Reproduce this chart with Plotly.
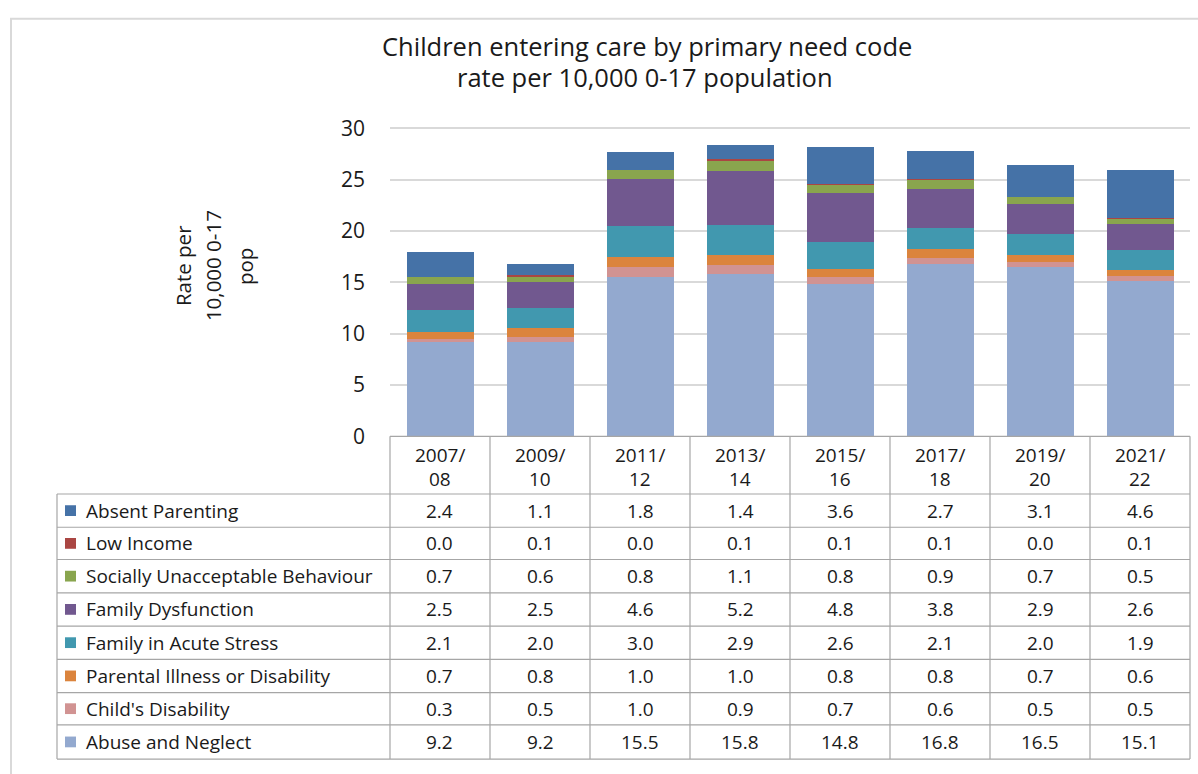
import plotly.graph_objects as go

# ---------------- data ----------------
periods = ["2007/08", "2009/10", "2011/12", "2013/14", "2015/16", "2017/18", "2019/20", "2021/22"]

abuse_neglect = [9.2, 9.2, 15.5, 15.8, 14.8, 16.8, 16.5, 15.1]
childs_disability = [0.3, 0.5, 1.0, 0.9, 0.7, 0.6, 0.5, 0.5]
parental_illness = [0.7, 0.8, 1.0, 1.0, 0.8, 0.8, 0.7, 0.6]
acute_stress = [2.1, 2.0, 3.0, 2.9, 2.6, 2.1, 2.0, 1.9]
family_dysfunction = [2.5, 2.5, 4.6, 5.2, 4.8, 3.8, 2.9, 2.6]
socially_unacceptable = [0.7, 0.6, 0.8, 1.1, 0.8, 0.9, 0.7, 0.5]
low_income = [0.0, 0.1, 0.0, 0.1, 0.1, 0.1, 0.0, 0.1]
absent_parenting = [2.4, 1.1, 1.8, 1.4, 3.6, 2.7, 3.1, 4.6]

series = [
    ("Abuse and Neglect", abuse_neglect, "#93A9CF"),
    ("Child's Disability", childs_disability, "#D19392"),
    ("Parental Illness or Disability", parental_illness, "#DB843D"),
    ("Family in Acute Stress", acute_stress, "#4198AF"),
    ("Family Dysfunction", family_dysfunction, "#71588F"),
    ("Socially Unacceptable Behaviour", socially_unacceptable, "#89A54E"),
    ("Low Income", low_income, "#AA4643"),
    ("Absent Parenting", absent_parenting, "#4572A7"),
]

y_ticks = [0, 5, 10, 15, 20, 25, 30]

W, H = 1198, 774
def px(x):
    return x / W
def py(y):
    return 1 - y / H

FONT = "Open Sans"
TXT = "#1a1a1a"
GRID = "#d9d9d9"
LINE = "#a6a6a6"

plot_left, plot_right = 390, 1190
y0_px, y30_px = 442, 127
unit = (y0_px - y30_px) / 30.0
ymax = 31
top_px = y0_px - ymax * unit

fig = go.Figure()
for name, vals, col in series:
    fig.add_trace(go.Bar(x=periods, y=vals, name=name,
                         marker=dict(color=col, line=dict(width=0)), showlegend=False))

fig.update_layout(
    width=W, height=H, autosize=False,
    margin=dict(l=0, r=0, t=0, b=0),
    paper_bgcolor="white", plot_bgcolor="white",
    barmode="stack", bargap=0.33,
    font=dict(family=FONT, color=TXT, size=19),
    xaxis=dict(domain=[px(plot_left), px(plot_right)], range=[-0.5, 7.5],
               showticklabels=False, showgrid=False, zeroline=False, showline=False, fixedrange=True),
    yaxis=dict(domain=[py(y0_px), py(top_px)], range=[0, ymax],
               tickvals=y_ticks, ticktext=[str(t) for t in y_ticks],
               showgrid=True, gridcolor=GRID, gridwidth=1.5, zeroline=False,
               showline=False, ticks="", ticklabelstandoff=24,
               tickfont=dict(size=21, color=TXT, family=FONT), fixedrange=True),
)

shapes = []
annotations = []

shapes.append(dict(type="rect", xref="paper", yref="paper",
                   x0=px(11), x1=px(1210), y0=py(15), y1=py(800),
                   line=dict(color="#d9d9d9", width=2), fillcolor="rgba(0,0,0,0)", layer="below"))

annotations.append(dict(text="Children entering care by primary need code", xref="paper", yref="paper",
                        x=px(647), y=py(43), xanchor="center", yanchor="middle", showarrow=False,
                        font=dict(size=25.5, family=FONT, color=TXT)))
annotations.append(dict(text="rate per 10,000 0-17 population", xref="paper", yref="paper",
                        x=px(645), y=py(75), xanchor="center", yanchor="middle", showarrow=False,
                        font=dict(size=25.5, family=FONT, color=TXT)))

for txt, xc in [("Rate per", 183), ("10,000 0-17", 213), ("pop", 245)]:
    annotations.append(dict(text=txt, xref="paper", yref="paper", x=px(xc), y=py(268),
                            xanchor="center", yanchor="middle", textangle=-90, showarrow=False,
                            font=dict(size=20.5, family=FONT, color=TXT)))

table_left = 57
header_top = 442
row_tops = [501, 535, 568, 602, 636, 670, 704, 737]
table_bottom = 772
col_edges = [plot_left + i * (plot_right - plot_left) / len(periods) for i in range(len(periods) + 1)]

def hline(x0, x1, y):
    shapes.append(dict(type="line", xref="paper", yref="paper", x0=px(x0), x1=px(x1),
                       y0=py(y), y1=py(y), line=dict(color=LINE, width=1.2)))
def vline(x, y0, y1):
    shapes.append(dict(type="line", xref="paper", yref="paper", x0=px(x), x1=px(x),
                       y0=py(y0), y1=py(y1), line=dict(color=LINE, width=1.2)))

hline(plot_left, plot_right, header_top)
for yt in row_tops:
    hline(table_left, plot_right, yt)
hline(table_left, plot_right, table_bottom)
vline(table_left, row_tops[0], table_bottom)
for xe in col_edges:
    vline(xe, header_top, table_bottom)

for p in periods:
    a, b = p.split("/")
    annotations.append(dict(text=a + "/", xref="x", yref="paper", x=p, y=py(461),
                            xanchor="center", yanchor="middle", showarrow=False,
                            font=dict(size=19, family=FONT, color=TXT)))
    annotations.append(dict(text=b, xref="x", yref="paper", x=p, y=py(486),
                            xanchor="center", yanchor="middle", showarrow=False,
                            font=dict(size=19, family=FONT, color=TXT)))

row_edges = row_tops + [table_bottom]
for i, (name, vals, col) in enumerate(reversed(series)):
    yc = (row_edges[i] + row_edges[i + 1]) / 2
    shapes.append(dict(type="rect", xref="paper", yref="paper",
                       x0=px(65), x1=px(76), y0=py(yc - 5.5), y1=py(yc + 5.5),
                       fillcolor=col, line=dict(width=0)))
    annotations.append(dict(text=name, xref="paper", yref="paper", x=px(84), y=py(yc),
                            xanchor="left", yanchor="middle", showarrow=False,
                            font=dict(size=19, family=FONT, color=TXT)))
    for p, v in zip(periods, vals):
        annotations.append(dict(text=f"{v:.1f}", xref="x", yref="paper", x=p, y=py(yc),
                                xanchor="center", yanchor="middle", showarrow=False,
                                font=dict(size=19, family=FONT, color=TXT)))

fig.update_layout(shapes=shapes, annotations=annotations)
fig.write_html("out.html")
